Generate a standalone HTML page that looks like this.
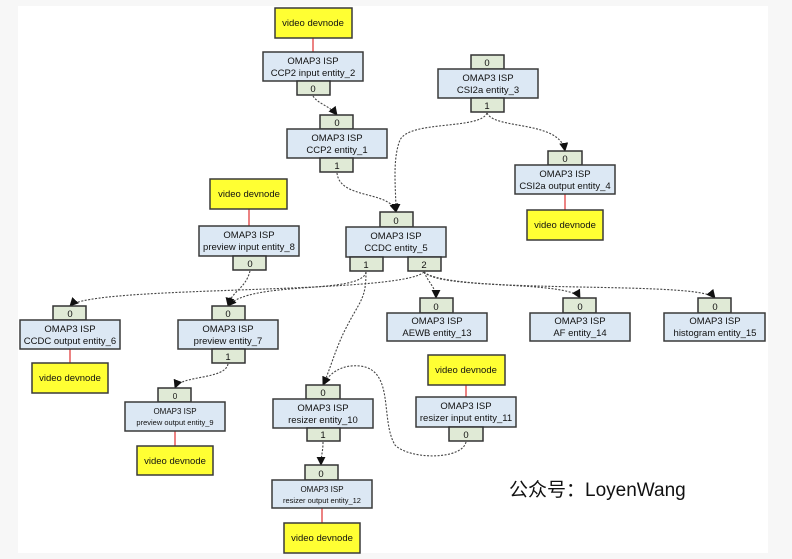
<!DOCTYPE html>
<html><head><meta charset="utf-8"><style>
html,body{margin:0;padding:0;background:#f7f7f7;width:792px;height:559px;overflow:hidden}
svg{display:block}
text{font-family:"Liberation Sans","Noto Sans CJK SC",sans-serif;fill:#111}
.b{fill:#dce8f4;stroke:#3a3a3a;stroke-width:1.5}
.p{fill:#e0ead6;stroke:#333;stroke-width:1.5}
.y{fill:#ffff33;stroke:#3a3a3a;stroke-width:1.5}
.e{fill:none;stroke:#444;stroke-width:1.1;stroke-dasharray:2,1.5}
.r{stroke:#e03030;stroke-width:1.2}
</style></head><body>
<svg width="792" height="559" viewBox="0 0 792 559" xmlns="http://www.w3.org/2000/svg">
<defs><marker id="a" viewBox="0 0 10 10" refX="9" refY="5" markerWidth="9" markerHeight="9" orient="auto" markerUnits="userSpaceOnUse"><path d="M0,0 L10,5 L0,10 z" fill="#111"/></marker></defs>
<rect x="18" y="6" width="750" height="547" fill="#fff"/>

<g class="e">
<path d="M313,96 C318,104 330,106 337,115" marker-end="url(#a)"/>
<path d="M337,173 C340,200 390,190 396,212" marker-end="url(#a)"/>
<path d="M487,113 C480,130 410,120 400,140 C392,160 396,190 396,212" marker-end="url(#a)"/>
<path d="M487,113 C495,130 560,120 565,151" marker-end="url(#a)"/>
<path d="M250,271 C245,290 232,290 228,306" marker-end="url(#a)"/>
<path d="M366,272 C362,295 250,280 228,306" marker-end="url(#a)"/>
<path d="M366,272 C366,300 360,300 345,330 C335,350 330,370 323,385" marker-end="url(#a)"/>
<path d="M424,272 C400,295 90,285 70,306" marker-end="url(#a)"/>
<path d="M424,272 C430,285 436,288 436,298" marker-end="url(#a)"/>
<path d="M424,272 C440,290 570,280 580,298" marker-end="url(#a)"/>
<path d="M424,272 C450,295 700,280 715,298" marker-end="url(#a)"/>
<path d="M228,364 C225,380 180,375 175,388" marker-end="url(#a)"/>
<path d="M323,442 C323,452 321,455 321,465" marker-end="url(#a)"/>
<path d="M466,442 C462,460 410,460 395,445 C380,420 395,370 360,366 C340,364 328,375 323,385" marker-end="url(#a)"/>
</g>

<line class="r" x1="313" y1="38" x2="313" y2="52"/>
<line class="r" x1="565" y1="194" x2="565" y2="210"/>
<line class="r" x1="249" y1="209" x2="249" y2="226"/>
<line class="r" x1="70" y1="349" x2="70" y2="363"/>
<line class="r" x1="175" y1="431" x2="175" y2="446"/>
<line class="r" x1="322" y1="508" x2="322" y2="523"/>
<line class="r" x1="466" y1="385" x2="466" y2="397"/>

<g font-size="9.5" text-anchor="middle">
<rect class="y" x="275" y="8" width="77" height="30"/><text x="313" y="26">video devnode</text>
<rect class="y" x="527" y="210" width="76" height="30"/><text x="565" y="228">video devnode</text>
<rect class="y" x="210" y="179" width="77" height="30"/><text x="249" y="197">video devnode</text>
<rect class="y" x="32" y="363" width="76" height="30"/><text x="70" y="381">video devnode</text>
<rect class="y" x="137" y="446" width="76" height="29"/><text x="175" y="464">video devnode</text>
<rect class="y" x="284" y="523" width="76" height="30"/><text x="322" y="541">video devnode</text>
<rect class="y" x="428" y="355" width="77" height="30"/><text x="466" y="373">video devnode</text>

<rect class="b" x="263" y="52" width="100" height="29"/><text x="313" y="64">OMAP3 ISP</text><text x="313" y="76">CCP2 input entity_2</text>
<rect class="p" x="297" y="81" width="33" height="14"/><text x="313" y="92">0</text>
<rect class="p" x="320" y="115" width="33" height="14"/><text x="337" y="126">0</text>
<rect class="b" x="287" y="129" width="100" height="29"/><text x="337" y="141">OMAP3 ISP</text><text x="337" y="153">CCP2 entity_1</text>
<rect class="p" x="320" y="158" width="33" height="14"/><text x="337" y="169">1</text>
<rect class="p" x="471" y="55" width="33" height="14"/><text x="487" y="66">0</text>
<rect class="b" x="438" y="69" width="100" height="29"/><text x="488" y="81">OMAP3 ISP</text><text x="488" y="93">CSI2a entity_3</text>
<rect class="p" x="471" y="98" width="33" height="14"/><text x="487" y="109">1</text>
<rect class="p" x="548" y="151" width="34" height="14"/><text x="565" y="162">0</text>
<rect class="b" x="515" y="165" width="100" height="29"/><text x="565" y="177">OMAP3 ISP</text><text x="565" y="189">CSI2a output entity_4</text>
<rect class="b" x="199" y="226" width="100" height="30"/><text x="249" y="238">OMAP3 ISP</text><text x="249" y="250">preview input entity_8</text>
<rect class="p" x="233" y="256" width="33" height="14"/><text x="250" y="267">0</text>
<rect class="p" x="380" y="212" width="33" height="15"/><text x="396" y="224">0</text>
<rect class="b" x="346" y="227" width="100" height="30"/><text x="396" y="239">OMAP3 ISP</text><text x="396" y="251">CCDC entity_5</text>
<rect class="p" x="350" y="257" width="33" height="14"/><text x="366" y="268">1</text>
<rect class="p" x="408" y="257" width="33" height="14"/><text x="424" y="268">2</text>
<rect class="p" x="53" y="306" width="33" height="14"/><text x="70" y="317">0</text>
<rect class="b" x="20" y="320" width="100" height="29"/><text x="70" y="332">OMAP3 ISP</text><text x="70" y="344">CCDC output entity_6</text>
<rect class="p" x="212" y="306" width="33" height="14"/><text x="228" y="317">0</text>
<rect class="b" x="178" y="320" width="100" height="29"/><text x="228" y="332">OMAP3 ISP</text><text x="228" y="344">preview entity_7</text>
<rect class="p" x="212" y="349" width="33" height="14"/><text x="228" y="360">1</text>
<rect class="p" x="158" y="388" width="33" height="14"/><text x="175" y="399" font-size="8">0</text>
<rect class="b" x="125" y="402" width="100" height="29"/><text x="175" y="414" font-size="8">OMAP3 ISP</text><text x="175" y="425" font-size="7.5">preview output entity_9</text>
<rect class="p" x="306" y="385" width="34" height="14"/><text x="323" y="396">0</text>
<rect class="b" x="273" y="399" width="100" height="29"/><text x="323" y="411">OMAP3 ISP</text><text x="323" y="423">resizer entity_10</text>
<rect class="p" x="307" y="428" width="33" height="13"/><text x="323" y="438">1</text>
<rect class="p" x="305" y="465" width="33" height="15"/><text x="321" y="477">0</text>
<rect class="b" x="272" y="480" width="100" height="28"/><text x="322" y="492" font-size="8">OMAP3 ISP</text><text x="322" y="503" font-size="7.5">resizer output entity_12</text>
<rect class="p" x="420" y="298" width="33" height="15"/><text x="436" y="310">0</text>
<rect class="b" x="387" y="313" width="100" height="28"/><text x="437" y="324">OMAP3 ISP</text><text x="437" y="336">AEWB entity_13</text>
<rect class="p" x="563" y="298" width="33" height="15"/><text x="580" y="310">0</text>
<rect class="b" x="530" y="313" width="100" height="28"/><text x="580" y="324">OMAP3 ISP</text><text x="580" y="336">AF entity_14</text>
<rect class="p" x="698" y="298" width="33" height="15"/><text x="715" y="310">0</text>
<rect class="b" x="664" y="313" width="101" height="28"/><text x="715" y="324">OMAP3 ISP</text><text x="715" y="336">histogram entity_15</text>
<rect class="b" x="416" y="397" width="100" height="30"/><text x="466" y="409">OMAP3 ISP</text><text x="466" y="421">resizer input entity_11</text>
<rect class="p" x="449" y="427" width="34" height="14"/><text x="466" y="438">0</text>
</g>
<text x="509" y="496" font-size="19" fill="#111">公众号：LoyenWang</text>
</svg>
</body></html>
